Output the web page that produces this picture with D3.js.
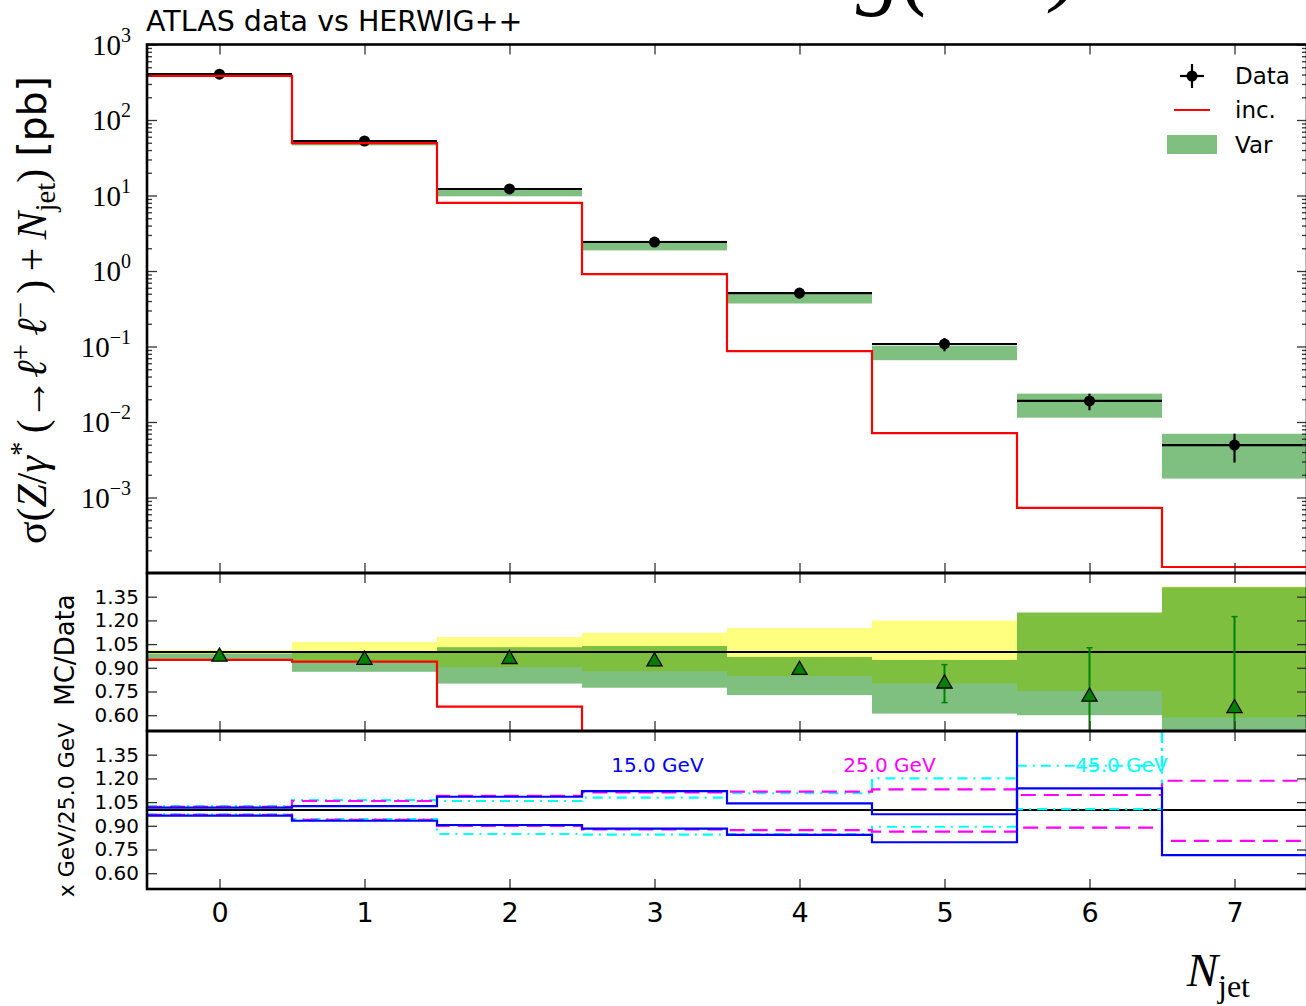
<!DOCTYPE html>
<html><head><meta charset="utf-8">
<script src="https://cdn.jsdelivr.net/npm/d3@7"></script>
<style>body{margin:0;background:#fff} svg{display:block}</style>
</head><body>
<svg id="chart" width="1306" height="1006"></svg>
<script>
// ---------------- data ----------------
const nJet = [0, 1, 2, 3, 4, 5, 6, 7];
const xTickLabels = ["0", "1", "2", "3", "4", "5", "6", "7"];
const dataXsec = [405, 52.7, 12.2, 2.42, 0.51, 0.108, 0.019, 0.00495];
const dataErr  = [5.3, 3.4, 1.16, 0.295, 0.0775, 0.0215, 0.0047, 0.00205];
const incXsec  = [385, 49.5, 7.98, 0.91, 0.087, 0.00714, 0.00073, 0.00012];
const varLo    = [387, 46.1, 9.76, 1.873, 0.371, 0.0659, 0.0114, 0.00178];
const varHi    = [401, 52.7, 12.57, 2.512, 0.494, 0.1026, 0.02375, 0.00698];
const mcRatio    = [0.97, 0.95, 0.955, 0.94, 0.886, 0.80, 0.717, 0.644];
const mcRatioErr = [0.005, 0.005, 0.005, 0.006, 0.027, 0.12, 0.31, 0.58];
const scale15A  = [1.015, 1.025, 1.084, 1.12, 1.042, 0.973, 1.137, 0.715];
const scale15B  = [0.965, 0.932, 0.905, 0.882, 0.842, 0.796, 1.9, 1.9];
const scale25Up = [1.02, 1.057, 1.09, 1.112, 1.116, 1.131, 1.095, 1.185];
const scale25Dn = [0.97, 0.937, 0.899, 0.878, 0.873, 0.863, 0.888, 0.804];
const scale45Up = [1.025, 1.063, 1.057, 1.078, 1.106, 1.2, 1.28, 1.9];
const scale45Dn = [0.972, 0.943, 0.848, 0.844, 0.848, 0.894, 1.006, 1.9];
const mainYExponents = [-3, -2, -1, 0, 1, 2, 3];
const ratioYTicks = [0.60, 0.75, 0.90, 1.05, 1.20, 1.35];
const scaleLabels = [{t: "15.0 GeV", x: 3.02, c: "#0000ff"}, {t: "25.0 GeV", x: 4.62, c: "#ff00ff"}, {t: "45.0 GeV", x: 6.22, c: "#00ffff"}];

// ---------------- layout ----------------
const svg = d3.select("#chart");
const L = 147, R = 1307;
const x = d3.scaleLinear().domain([-0.5, 7.5]).range([L, R]);
const yMain = d3.scaleLog().domain([1e-4, 1e3]).range([573, 44.5]);
const yR1 = d3.scaleLinear().domain([0.5, 1.5]).range([731, 573]);
const yR2 = d3.scaleLinear().domain([0.5, 1.5]).range([889, 731]);
const SANS = "DejaVu Sans";
const SERIF = "Liberation Serif";

const defs = svg.append("defs");
function clip(id, y0, y1) {
  defs.append("clipPath").attr("id", id).append("rect")
    .attr("x", L).attr("y", y0).attr("width", R - L).attr("height", y1 - y0);
}
clip("cMain", 44.5, 573); clip("cR1", 573, 731); clip("cR2", 731, 889);

const stepPts = arr => arr.map((v, i) => [i - 0.5, v]).concat([[7.5, arr[arr.length - 1]]]);
const stepLine = y => d3.line().x(d => x(d[0])).y(d => y(d[1])).curve(d3.curveStepAfter);

// ---------------- main panel ----------------
const gM = svg.append("g").attr("clip-path", "url(#cMain)");
gM.selectAll("rect.var").data(nJet).join("rect")
  .attr("x", d => x(d - 0.5)).attr("width", x(1) - x(0))
  .attr("y", d => yMain(varHi[d])).attr("height", d => yMain(varLo[d]) - yMain(varHi[d]))
  .attr("fill", "#008000").attr("fill-opacity", 0.5);
gM.selectAll("line.dx").data(nJet).join("line")
  .attr("x1", d => x(d - 0.5)).attr("x2", d => x(d + 0.5))
  .attr("y1", d => yMain(dataXsec[d])).attr("y2", d => yMain(dataXsec[d]))
  .attr("stroke", "#000").attr("stroke-width", 2.2);
gM.selectAll("line.dy").data(nJet).join("line")
  .attr("x1", d => x(d)).attr("x2", d => x(d))
  .attr("y1", d => yMain(dataXsec[d] + dataErr[d])).attr("y2", d => yMain(dataXsec[d] - dataErr[d]))
  .attr("stroke", "#000").attr("stroke-width", 2.2);
gM.selectAll("circle").data(nJet).join("circle")
  .attr("cx", d => x(d)).attr("cy", d => yMain(dataXsec[d])).attr("r", 5.5).attr("fill", "#000");
gM.append("path").attr("d", stepLine(yMain)(stepPts(incXsec)))
  .attr("fill", "none").attr("stroke", "#ff0000").attr("stroke-width", 2.2);

// ---------------- ratio panel 1 ----------------
const g1 = svg.append("g").attr("clip-path", "url(#cR1)");
g1.selectAll("rect.dat").data(nJet).join("rect")
  .attr("x", d => x(d - 0.5)).attr("width", x(1) - x(0))
  .attr("y", d => yR1(1 + dataErr[d] / dataXsec[d]))
  .attr("height", d => yR1(1 - dataErr[d] / dataXsec[d]) - yR1(1 + dataErr[d] / dataXsec[d]))
  .attr("fill", "#ffff00").attr("fill-opacity", 0.5);
g1.selectAll("rect.var").data(nJet).join("rect")
  .attr("x", d => x(d - 0.5)).attr("width", x(1) - x(0))
  .attr("y", d => yR1(varHi[d] / dataXsec[d]))
  .attr("height", d => yR1(varLo[d] / dataXsec[d]) - yR1(varHi[d] / dataXsec[d]))
  .attr("fill", "#008000").attr("fill-opacity", 0.5);
g1.append("path").attr("d", stepLine(yR1)(stepPts(incXsec.map((v, i) => v / dataXsec[i]))))
  .attr("fill", "none").attr("stroke", "#ff0000").attr("stroke-width", 2.2);
g1.append("line").attr("x1", L).attr("x2", R).attr("y1", yR1(1)).attr("y2", yR1(1))
  .attr("stroke", "#000").attr("stroke-width", 2);
g1.selectAll("line.eb").data(nJet).join("line")
  .attr("x1", d => x(d)).attr("x2", d => x(d))
  .attr("y1", d => yR1(mcRatio[d] + mcRatioErr[d])).attr("y2", d => yR1(mcRatio[d] - mcRatioErr[d]))
  .attr("stroke", "#008000").attr("stroke-width", 2);
g1.selectAll("line.cap1").data(nJet).join("line")
  .attr("x1", d => x(d) - 3).attr("x2", d => x(d) + 3)
  .attr("y1", d => yR1(mcRatio[d] + mcRatioErr[d])).attr("y2", d => yR1(mcRatio[d] + mcRatioErr[d]))
  .attr("stroke", "#008000").attr("stroke-width", 1.5);
g1.selectAll("line.cap2").data(nJet).join("line")
  .attr("x1", d => x(d) - 3).attr("x2", d => x(d) + 3)
  .attr("y1", d => yR1(mcRatio[d] - mcRatioErr[d])).attr("y2", d => yR1(mcRatio[d] - mcRatioErr[d]))
  .attr("stroke", "#008000").attr("stroke-width", 1.5);
g1.selectAll("path.tri").data(nJet).join("path")
  .attr("d", d3.symbol().type(d3.symbolTriangle).size(100))
  .attr("transform", d => `translate(${x(d)},${yR1(mcRatio[d])})`)
  .attr("fill", "#008000").attr("stroke", "#000").attr("stroke-width", 1.3);

// ---------------- ratio panel 2 ----------------
const g2 = svg.append("g").attr("clip-path", "url(#cR2)");
g2.append("line").attr("x1", L).attr("x2", R).attr("y1", yR2(1)).attr("y2", yR2(1))
  .attr("stroke", "#000").attr("stroke-width", 2);
const varLines = [
  {v: scale45Up, c: "#00ffff", dash: "10,6,2,6"},
  {v: scale45Dn, c: "#00ffff", dash: "10,6,2,6"},
  {v: scale25Up, c: "#ff00ff", dash: "15,8"},
  {v: scale25Dn, c: "#ff00ff", dash: "15,8"},
  {v: scale15A, c: "#0000ff", dash: null},
  {v: scale15B, c: "#0000ff", dash: null}
];
varLines.forEach(s => {
  g2.append("path").attr("d", stepLine(yR2)(stepPts(s.v)))
    .attr("fill", "none").attr("stroke", s.c).attr("stroke-width", 2.2)
    .attr("stroke-dasharray", s.dash);
});
svg.selectAll("text.sl").data(scaleLabels).join("text")
  .attr("x", d => x(d.x)).attr("y", 772).attr("text-anchor", "middle")
  .attr("font-family", SANS).attr("font-size", 20).attr("fill", d => d.c).text(d => d.t);

// ---------------- axes ----------------
const tickStyle = g => {
  g.select(".domain").remove();
  g.selectAll(".tick line").attr("stroke", "#333").attr("stroke-width", 1.3);
};
[[44.5, "top"], [573, "bottom"], [573, "top"], [731, "bottom"], [731, "top"], [889, "bottom"]].forEach(([yy, side], idx) => {
  const ax = (side === "top" ? d3.axisTop(x) : d3.axisBottom(x)).tickValues(nJet).tickSize(-10).tickPadding(14);
  const g = svg.append("g").attr("transform", `translate(0,${yy})`).call(ax).call(tickStyle);
  if (idx === 5) {
    g.selectAll(".tick text").text((d, i) => xTickLabels[i]).attr("font-family", SANS)
      .attr("font-size", 27).attr("fill", "#000");
  } else {
    g.selectAll(".tick text").remove();
  }
});
// main y ticks
const majorVals = mainYExponents.map(e => Math.pow(10, e));
const minorVals = [];
for (let e = -4; e < 3; e++) for (let m = 2; m <= 9; m++) minorVals.push(m * Math.pow(10, e));
[[L, "left"], [R, "right"]].forEach(([xx, side]) => {
  const mk = side === "left" ? d3.axisLeft : d3.axisRight;
  svg.append("g").attr("transform", `translate(${xx},0)`)
    .call(mk(yMain).tickValues(majorVals).tickSize(-10).tickFormat(""))
    .call(tickStyle);
  svg.append("g").attr("transform", `translate(${xx},0)`)
    .call(mk(yMain).tickValues(minorVals).tickSize(-5).tickFormat(""))
    .call(tickStyle);
  [yR1, yR2].forEach(yr => {
    const g = svg.append("g").attr("transform", `translate(${xx},0)`)
      .call(mk(yr).tickValues(ratioYTicks).tickSize(-10).tickPadding(8).tickFormat(d3.format(".2f")))
      .call(tickStyle);
    if (side === "left") g.selectAll(".tick text").attr("font-family", SANS).attr("font-size", 20).attr("fill", "#000");
    else g.selectAll(".tick text").remove();
  });
});
// main y tick labels (10^n)
mainYExponents.forEach(e => {
  const t = svg.append("text").attr("x", 131).attr("y", yMain(Math.pow(10, e)) + 10)
    .attr("text-anchor", "end").attr("font-family", SERIF).attr("font-size", 29).attr("fill", "#000");
  t.append("tspan").text("10");
  t.append("tspan").attr("dy", -13).attr("font-size", 20).text(e < 0 ? "\u2212" + (-e) : String(e));
});

// spines
[[44.5, 573], [573, 731], [731, 889]].forEach(([a, b]) => {
  svg.append("rect").attr("x", L).attr("y", a).attr("width", R - L).attr("height", b - a)
    .attr("fill", "none").attr("stroke", "#000").attr("stroke-width", 2.6);
});

// ---------------- labels ----------------
svg.append("text").attr("x", 146).attr("y", 31).attr("font-family", SANS).attr("font-size", 28.5)
  .attr("fill", "#000").text("ATLAS data vs HERWIG++");
// large title, mostly above the top edge (as in the reference)
const big = svg.append("text").attr("x", 856).attr("y", -2).attr("font-family", SERIF)
  .attr("font-style", "italic").attr("font-size", 92).attr("fill", "#000");
big.append("tspan").text("g(");
big.append("tspan").attr("x", 1052).attr("dy", -4).text(")");

// y label (math-like), scaled to the span it covers in the reference
function buildYLabel(F) {
  const k = F / 32;
  const yl = svg.append("text").attr("class", "ylab").attr("transform", "translate(46,310) rotate(-90)")
    .attr("text-anchor", "middle").attr("font-family", SERIF).attr("font-size", F).attr("fill", "#000");
  const sup = 22 * k, up = 12 * k, dn = 7 * k;
  yl.append("tspan").text("\u03c3(");
  yl.append("tspan").attr("font-style", "italic").text("Z");
  yl.append("tspan").text("/");
  yl.append("tspan").attr("font-style", "italic").text("\u03b3");
  yl.append("tspan").attr("dy", -up).attr("font-size", sup).text("*");
  yl.append("tspan").attr("dy", up).text("\u2009(\u2192");
  yl.append("tspan").attr("font-style", "italic").text("\u2113");
  yl.append("tspan").attr("dy", -up).attr("font-size", sup).text("+");
  yl.append("tspan").attr("dy", up).attr("font-style", "italic").text("\u2009\u2113");
  yl.append("tspan").attr("dy", -up).attr("font-size", sup).text("\u2212");
  yl.append("tspan").attr("dy", up).text("\u2009)\u2009+\u2009");
  yl.append("tspan").attr("font-style", "italic").text("N");
  yl.append("tspan").attr("dy", dn).attr("font-size", sup).text("jet");
  yl.append("tspan").attr("dy", -dn).text(")");
  yl.append("tspan").attr("font-family", SANS).attr("font-size", 30 * k).text(" [pb]");
  return yl;
}
let ylab = buildYLabel(32);
const len = ylab.node().getComputedTextLength();
ylab.remove();
buildYLabel(32 * 468 / len);

svg.append("text").attr("transform", "translate(74,650) rotate(-90)").attr("text-anchor", "middle")
  .attr("font-family", SANS).attr("font-size", 26).attr("fill", "#000").text("MC/Data");
svg.append("text").attr("transform", "translate(74,810) rotate(-90)").attr("text-anchor", "middle")
  .attr("font-family", SANS).attr("font-size", 22).attr("fill", "#000").text("x GeV/25.0 GeV");

// x label
const xl = svg.append("text").attr("x", 1250).attr("y", 986).attr("text-anchor", "end")
  .attr("font-family", SERIF).attr("font-size", 47).attr("fill", "#000");
xl.append("tspan").attr("font-style", "italic").text("N");
xl.append("tspan").attr("dy", 11).attr("font-size", 32).text("jet");

// ---------------- legend ----------------
const lg = svg.append("g");
lg.append("line").attr("x1", 1180).attr("x2", 1204).attr("y1", 76).attr("y2", 76).attr("stroke", "#000").attr("stroke-width", 2.2);
lg.append("line").attr("x1", 1192).attr("x2", 1192).attr("y1", 64).attr("y2", 88).attr("stroke", "#000").attr("stroke-width", 2.2);
lg.append("circle").attr("cx", 1192).attr("cy", 76).attr("r", 5.5).attr("fill", "#000");
lg.append("line").attr("x1", 1174).attr("x2", 1210).attr("y1", 110).attr("y2", 110).attr("stroke", "#ff0000").attr("stroke-width", 2.2);
lg.append("rect").attr("x", 1167).attr("y", 135).attr("width", 50).attr("height", 19).attr("fill", "#008000").attr("fill-opacity", 0.5);
[["Data", 84], ["inc.", 118], ["Var", 153]].forEach(([t, yy]) => {
  lg.append("text").attr("x", 1235).attr("y", yy).attr("font-family", SANS).attr("font-size", 23).attr("fill", "#000").text(t);
});
</script>
</body></html>
